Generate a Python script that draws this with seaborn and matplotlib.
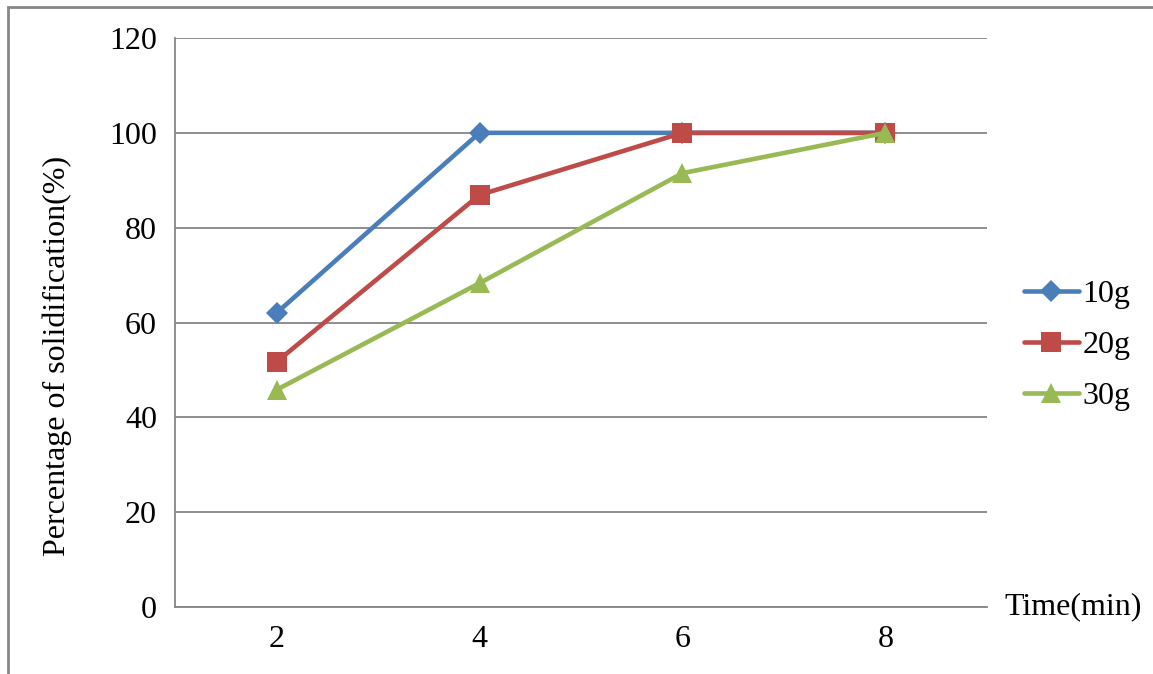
import matplotlib
matplotlib.use("Agg")
import matplotlib.pyplot as plt
import seaborn as sns
import pandas as pd
from matplotlib.patches import Rectangle

# Solidification percentage over time for three additive dosages
times = ["2", "4", "6", "8"]
series_names = ["10g", "20g", "30g"]
solid_10g = [62.0, 100.0, 100.0, 100.0]
solid_20g = [51.7, 86.9, 100.0, 100.0]
solid_30g = [45.8, 68.3, 91.5, 100.0]

colors = {"10g": "#4A7EBB", "20g": "#BE4B48", "30g": "#98B954"}
markers = {"10g": "D", "20g": "s", "30g": "^"}
msizes = {"10g": 11.5, "20g": 14.5, "30g": 15}

df = pd.DataFrame({
    "Time": times * 3,
    "Solidification": solid_10g + solid_20g + solid_30g,
    "Dose": [n for n in series_names for _ in times],
})

sns.set_theme(style="white")
plt.rcParams["font.family"] = ["Liberation Serif", "DejaVu Serif"]
FS = 23

fig = plt.figure(figsize=(11.53, 6.74), dpi=100)
ax = fig.add_axes([0.1518, 0.0994, 0.7042, 0.8442])

grid_c = "#868686"
for name in series_names:
    sub = df[df["Dose"] == name]
    sns.lineplot(data=sub, x="Time", y="Solidification", ax=ax,
                 color=colors[name], marker=markers[name],
                 markersize=msizes[name], markeredgewidth=0,
                 linewidth=3.3, label=name, sort=False)

ax.set_xlim(-0.5, len(times) - 0.5)
ax.set_ylim(0, 120)
ax.set_yticks(range(0, 121, 20))
ax.yaxis.grid(True, color=grid_c, linewidth=1.3)
ax.set_axisbelow(True)

# category boundaries carry the tick marks, labels sit in the centres
ax.set_xticks([i - 0.5 for i in range(len(times) + 1)])
ax.set_xticklabels([])
ax.set_xticks(range(len(times)), minor=True)
ax.set_xticklabels(times, minor=True)
ax.tick_params(axis="x", which="major", direction="out", length=8,
               width=1.3, color=grid_c)
ax.tick_params(axis="x", which="minor", length=0, pad=13, labelsize=FS,
               labelcolor="black")
ax.tick_params(axis="y", direction="out", length=7, width=1.3,
               color=grid_c, labelsize=FS, labelcolor="black", pad=6)

for side in ["top", "right"]:
    ax.spines[side].set_visible(False)
for side in ["left", "bottom"]:
    ax.spines[side].set_color(grid_c)
    ax.spines[side].set_linewidth(1.3)

ax.set_xlabel("")
ax.set_ylabel("Percentage of solidification(%)", fontsize=FS, color="black")
ax.yaxis.set_label_coords(-0.127, 0.441)
ax.text(1.022, 0.0, "Time(min)", transform=ax.transAxes, fontsize=FS,
        color="black", ha="left", va="center")

leg = ax.legend(loc="center left", bbox_to_anchor=(1.045, 0.46),
                frameon=False, fontsize=FS, handlelength=1.75,
                handletextpad=0.1, labelspacing=0.67, borderaxespad=0,
                borderpad=0)
for t in leg.get_texts():
    t.set_color("black")

# outer chart frame
fig.patches.append(Rectangle((0.007, -0.05), 1.1, 1.04, transform=fig.transFigure,
                             fill=False, edgecolor=grid_c, linewidth=2.0))

fig.savefig("out.png", dpi=100)
